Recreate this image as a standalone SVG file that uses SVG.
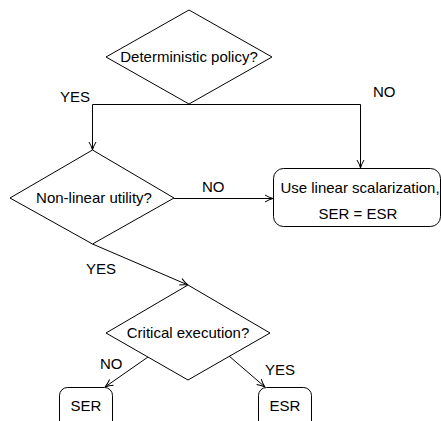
<svg xmlns="http://www.w3.org/2000/svg" width="441" height="421" viewBox="0 0 441 421">
<defs>
<marker id="arr" viewBox="0 0 10 10" refX="9" refY="5" markerWidth="10" markerHeight="10" markerUnits="userSpaceOnUse" orient="auto">
<path d="M1,1.5 Q5,4 9,5 Q5,6 1,8.5" fill="none" stroke="#000" stroke-width="1"/>
</marker>
</defs>
<style>
.s{fill:#fff;stroke:#000;stroke-width:1}
.c{fill:none;stroke:#000;stroke-width:1;marker-end:url(#arr)}
.l{fill:none;stroke:#000;stroke-width:1}
text{font-family:"Liberation Sans","DejaVu Sans",sans-serif;font-size:15px;fill:#000}
.m{text-anchor:middle}
</style>
<rect width="441" height="421" fill="#fff"/>
<g id="connectors">
<path class="l" d="M92.5,104.5 H360.5"/>
<path class="c" d="M92.5,104.5 V150"/>
<path class="c" d="M360.5,104.5 V168"/>
<path class="c" d="M174,198.5 H273"/>
<path class="c" d="M92.5,244 L188,285"/>
<path class="c" d="M148,357 L105,387"/>
<path class="c" d="M229,356 L265,387"/>
<text x="90" y="102" text-anchor="end">YES</text>
<text x="373" y="97">NO</text>
<text x="202" y="192">NO</text>
<text x="86" y="274">YES</text>
<text x="100" y="369">NO</text>
<text x="265" y="375">YES</text>
</g>
<g id="n1">
<polygon class="s" points="189,10 272,57 189,104 106,57"/>
<text class="m" x="189" y="62">Deterministic policy?</text>
</g>
<g id="n2">
<polygon class="s" points="92.5,150 174,198 92.5,244 10,198"/>
<text class="m" x="94" y="203">Non-linear utility?</text>
</g>
<g id="n3">
<rect class="s" x="273.5" y="168.5" width="167" height="58" rx="10"/>
<text class="m" x="360" y="193">Use linear scalarization,</text>
<text class="m" x="358" y="219">SER = ESR</text>
</g>
<g id="n4">
<polygon class="s" points="188,285 270,333 188,380 106,333"/>
<text class="m" x="188" y="338">Critical execution?</text>
</g>
<g id="n5">
<rect class="s" x="59.5" y="387.5" width="53" height="45" rx="8"/>
<text class="m" x="86" y="411">SER</text>
</g>
<g id="n6">
<rect class="s" x="258.5" y="387.5" width="53" height="45" rx="8"/>
<text class="m" x="285" y="411">ESR</text>
</g>
</svg>
